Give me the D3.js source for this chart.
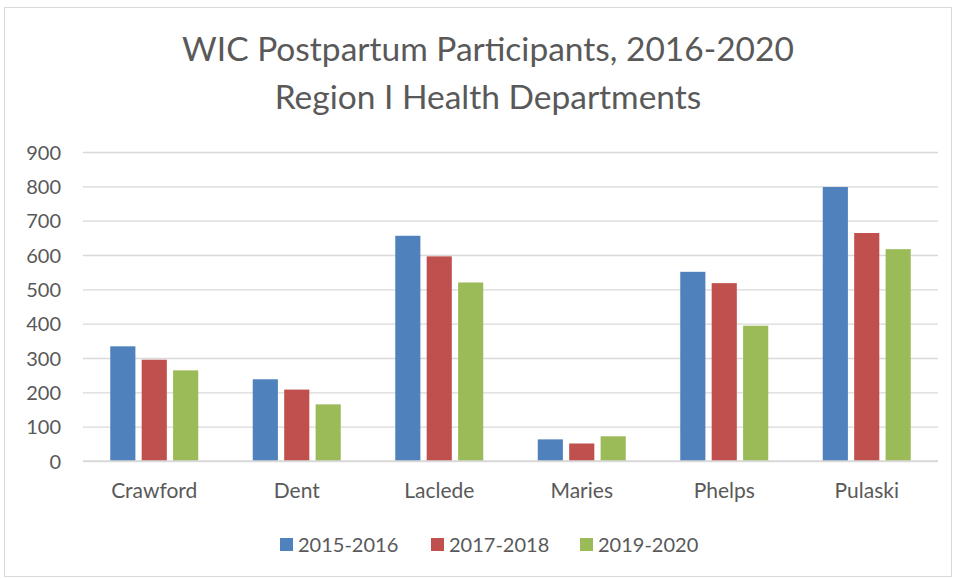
<!DOCTYPE html>
<html>
<head>
<meta charset="utf-8">
<script src="https://cdn.jsdelivr.net/npm/d3@7"></script>
<style>
  body { margin: 0; background: #fff; }
  text { font-family: Lato, "Open Sans", sans-serif; fill: #595959; }
</style>
</head>
<body>
<div id="chart"></div>
<script>
const counties = ["Crawford", "Dent", "Laclede", "Maries", "Phelps", "Pulaski"];
const seriesNames = ["2015-2016", "2017-2018", "2019-2020"];
const values2015 = [334, 238, 656, 63, 551, 798];
const values2017 = [295, 208, 596, 51, 518, 664];
const values2019 = [264, 165, 520, 72, 394, 617];
const yTicks = [0, 100, 200, 300, 400, 500, 600, 700, 800, 900];
const colors = ["#4F81BD", "#C0504D", "#9BBB59"];

const WIDTH = 955, HEIGHT = 579;
const margin = {left: 83, right: 17, top: 152, bottom: 118};
const GROUP_W = 88;

const seriesValues = [values2015, values2017, values2019];

const svg = d3.select("#chart").append("svg")
    .attr("width", WIDTH)
    .attr("height", HEIGHT);

// outer frame
svg.append("rect")
    .attr("x", 4.5).attr("y", 7.5)
    .attr("width", WIDTH - 8).attr("height", HEIGHT - 10)
    .attr("fill", "#fff")
    .attr("stroke", "#d9d9d9");

const x = d3.scaleBand()
    .domain(counties)
    .range([margin.left, WIDTH - margin.right]);

const xInner = d3.scaleBand()
    .domain(seriesNames)
    .range([0, GROUP_W])
    .paddingInner(0.2);

const y = d3.scaleLinear()
    .domain([0, 900])
    .range([HEIGHT - margin.bottom, margin.top]);

// gridlines
const yAxis = d3.axisLeft(y)
    .tickValues(yTicks)
    .tickSize(-(WIDTH - margin.left - margin.right))
    .tickPadding(22);

const gy = svg.append("g")
    .attr("transform", "translate(" + margin.left + ",0)")
    .call(yAxis);
gy.select(".domain").remove();
gy.selectAll(".tick line").attr("stroke", "#d9d9d9").attr("stroke-width", 1.3);
gy.selectAll(".tick text")
    .attr("font-size", 20)
    .attr("font-family", "Lato, sans-serif")
    .attr("dy", "0.35em")
    .style("fill", "#595959");

// bars
const groups = svg.append("g").selectAll("g")
    .data(counties)
    .join("g")
    .attr("transform", c => "translate(" + (x(c) + (x.bandwidth() - GROUP_W) / 2) + ",0)");

groups.selectAll("rect")
    .data((c, i) => seriesNames.map((s, j) => ({series: s, value: seriesValues[j][i], idx: j})))
    .join("rect")
    .attr("x", d => xInner(d.series))
    .attr("width", xInner.bandwidth())
    .attr("y", d => y(d.value))
    .attr("height", d => y(0) - y(d.value))
    .attr("fill", d => colors[d.idx]);

// x axis line
svg.append("line")
    .attr("x1", margin.left).attr("x2", WIDTH - margin.right)
    .attr("y1", y(0)).attr("y2", y(0))
    .attr("stroke", "#d9d9d9").attr("stroke-width", 1.3);

// category labels
svg.append("g").selectAll("text")
    .data(counties)
    .join("text")
    .attr("x", c => x(c) + x.bandwidth() / 2)
    .attr("y", 498)
    .attr("text-anchor", "middle")
    .attr("font-size", 21)
    .text(c => c);

// title
const title = svg.append("text")
    .attr("text-anchor", "middle")
    .attr("font-size", 33.5);
title.append("tspan").attr("x", 488).attr("y", 61).text("WIC Postpartum Participants, 2016-2020");
title.append("tspan").attr("x", 488).attr("y", 109).text("Region I Health Departments");

// legend
const legendX = [280, 431, 580];
const legend = svg.append("g").selectAll("g")
    .data(seriesNames)
    .join("g")
    .attr("transform", (d, i) => "translate(" + legendX[i] + ",538)");
legend.append("rect")
    .attr("width", 13).attr("height", 13)
    .attr("fill", (d, i) => colors[i]);
legend.append("text")
    .attr("x", 18).attr("y", 14)
    .attr("font-size", 20)
    .text(d => d);
</script>
</body>
</html>
